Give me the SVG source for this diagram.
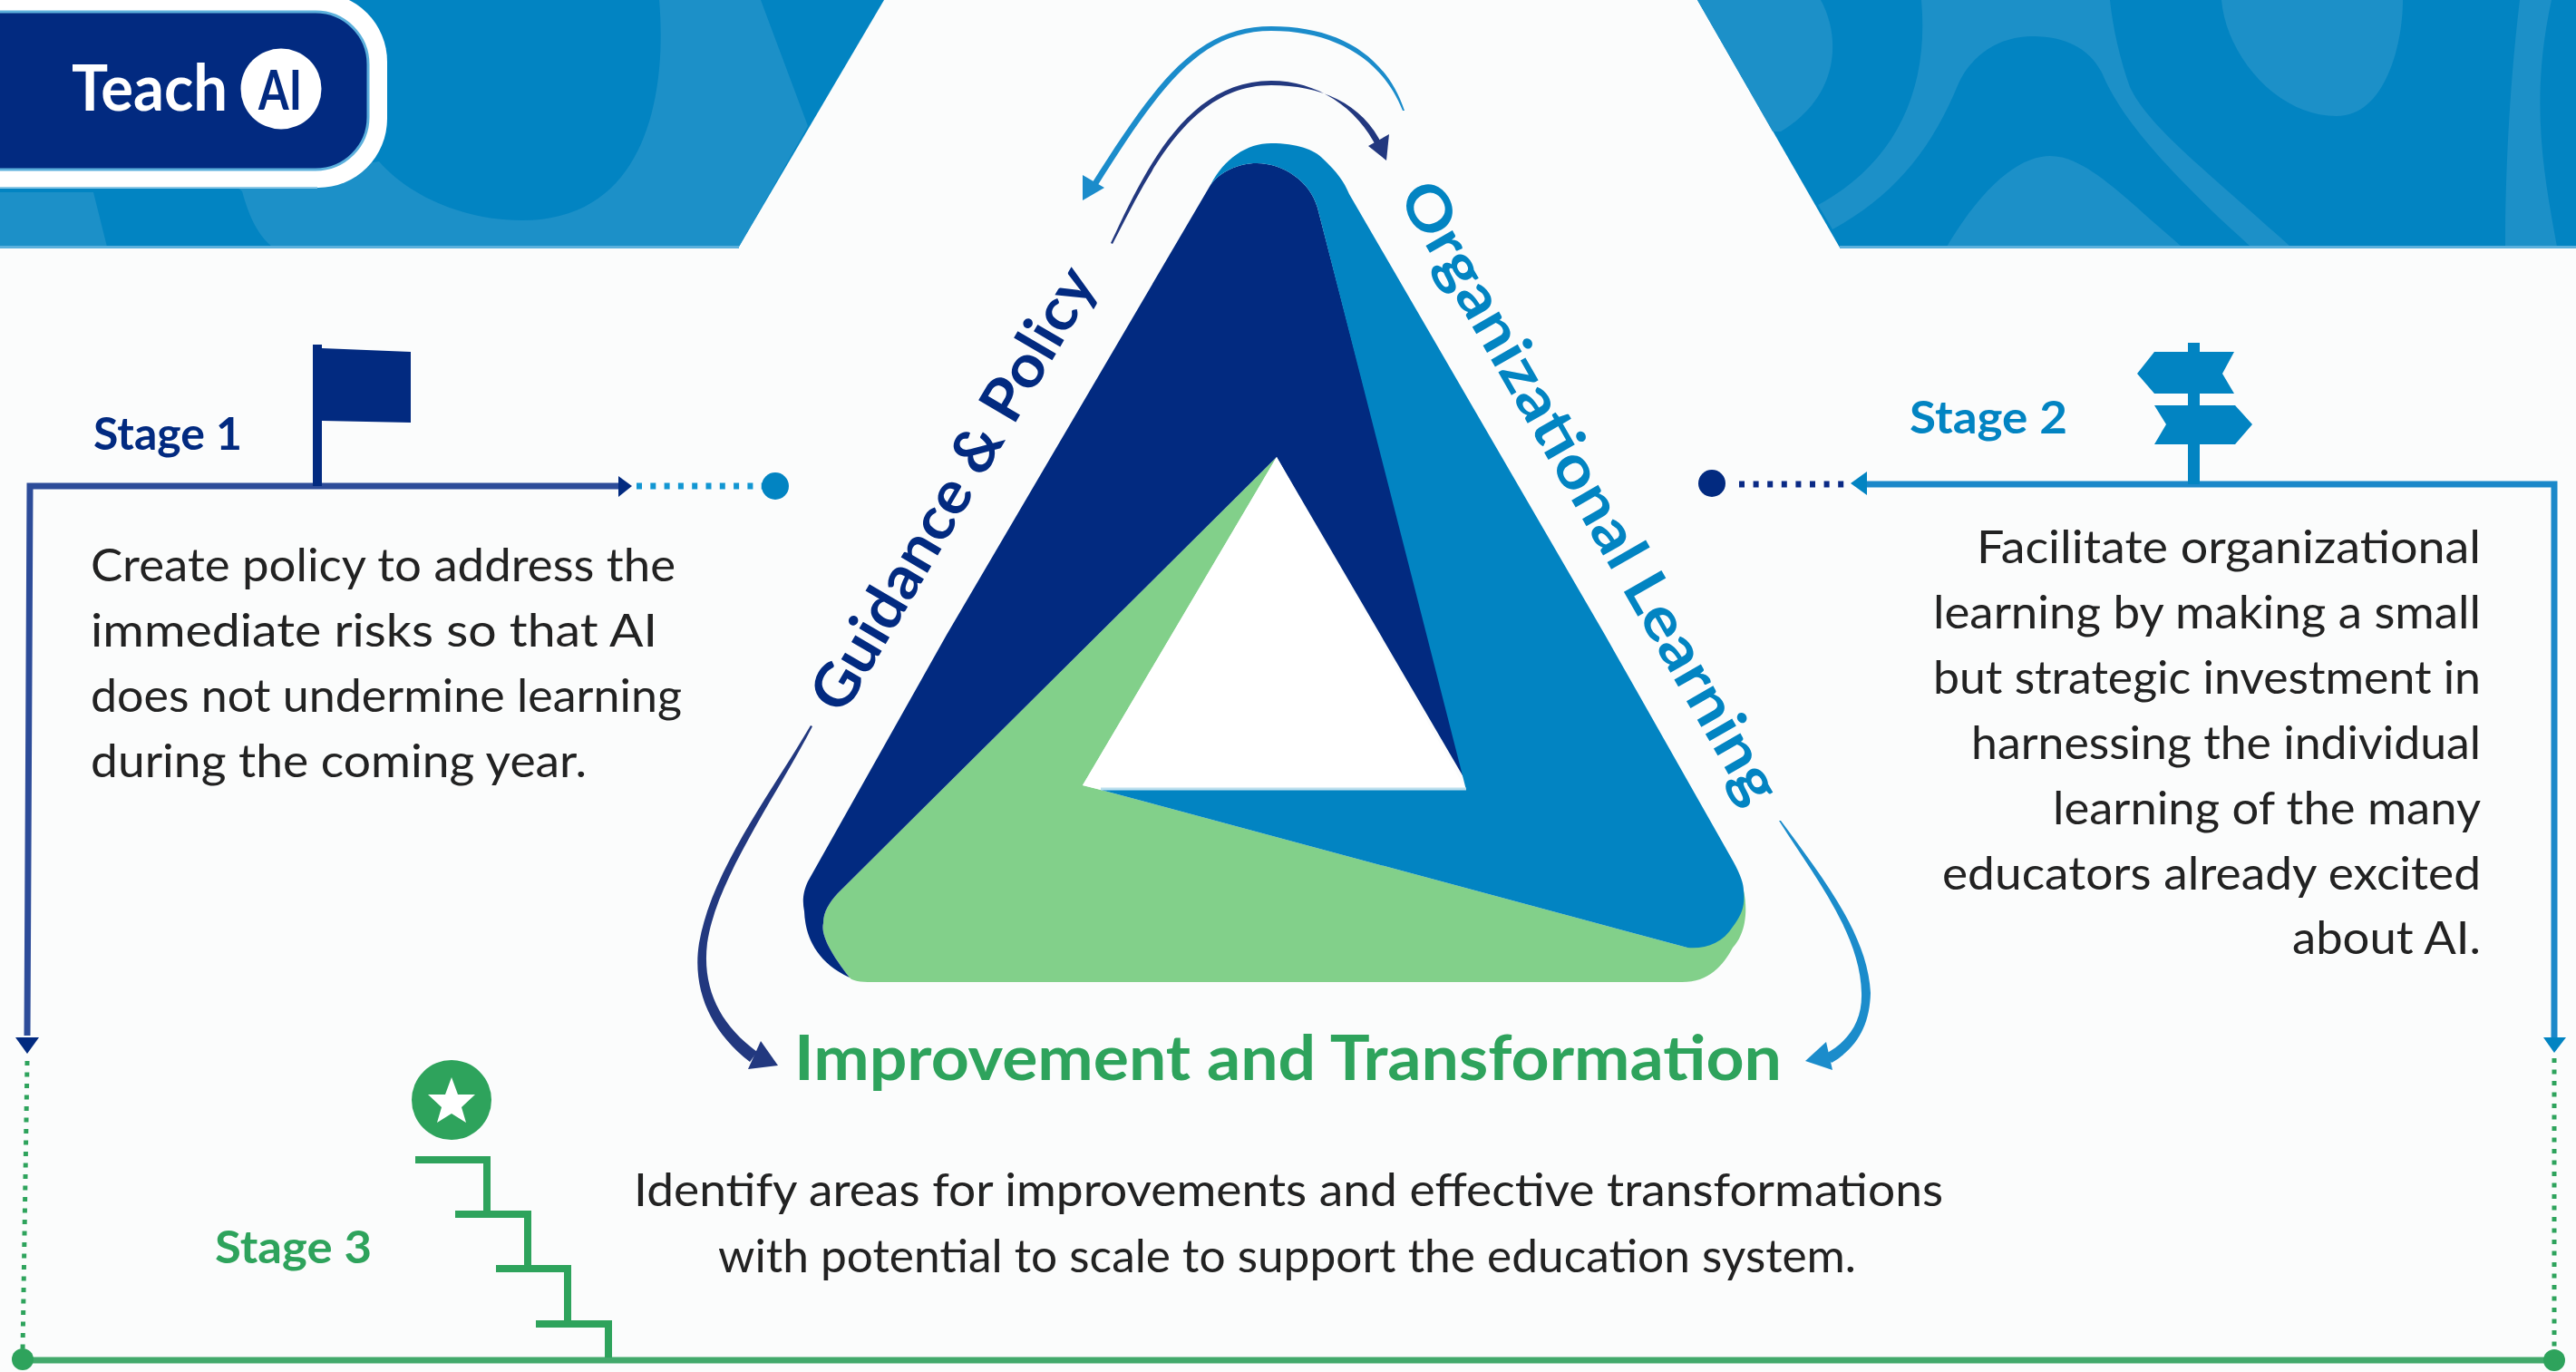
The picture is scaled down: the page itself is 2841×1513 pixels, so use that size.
<svg xmlns="http://www.w3.org/2000/svg" width="2841" height="1513" viewBox="0 0 2841 1513">
<style>
text{font-family:"Lato","Liberation Sans",sans-serif}
.body{font-size:50px;fill:#222;font-weight:400}
.stage{font-size:50px;font-weight:700}
.side{font-size:66px;font-weight:700}
.line{fill:none;stroke-linejoin:miter}
.navy{fill:#022a80}.blue{fill:#0284c2}.green{fill:#2ea35c}
.lb{fill:#1c90c8}.head-n{fill:#22387f}.head-b{fill:#1b8ccb}
.dot{fill:none}
.st{fill:none;stroke:#2ea35c;stroke-width:8}
</style>
<rect width="2841" height="1513" fill="#fbfcfc"/>
<g id="header">
<path class="blue" d="M0,0H975L815,272H0Z"/>
<path class="lb" d="M727,0C735,90 720,243 576,243C510,243 450,215 418,178L260,205L267,211C275,240 285,260 300,272H815L891,139L839,0Z"/>
<path class="lb" d="M0,212H103L118,272H0Z"/>
<path class="blue" d="M1872,0H2841V273H2029Z"/>
<path class="lb" d="M1872,0H2008C2030,40 2030,105 1964,145L1955,145Z"/>
<path class="lb" d="M2119,0C2128,100 2090,180 2005,226L2021,253C2090,215 2130,165 2160,92C2175,60 2205,40 2242,40C2280,40 2305,55 2318,80C2335,120 2370,170 2482,272H2526C2430,185 2370,140 2349,96C2338,65 2330,30 2327,0Z"/>
<path class="lb" d="M2147,272C2190,200 2230,172 2261,172C2300,172 2340,215 2406,272Z"/>
<path class="lb" d="M2450,0C2455,60 2510,128 2577,128C2630,128 2650,50 2650,0Z"/>
<path class="lb" d="M2779,0C2768,90 2763,190 2763,272H2820C2805,190 2790,110 2814,0Z"/>
<path d="M0,272.500H815M2029,272.500H2841" fill="none" stroke="#5cb0dc" stroke-width="3"/>
</g>
<g id="logo">
<rect x="-90" y="-8" width="517" height="215" rx="76" fill="#fff"/>
<path d="M0,207H350" stroke="#8cc8e6" stroke-width="2" fill="none"/>
<rect x="-90" y="13" width="496" height="174" rx="58" fill="#022a80" stroke="#5cb0dc" stroke-width="3"/>
<text x="79" y="122" font-size="70" font-weight="700" fill="#fff" textLength="172" lengthAdjust="spacingAndGlyphs">Teach</text>
<circle cx="310" cy="98" r="44.500" fill="#fff"/>
<text x="285" y="121" font-size="62" font-weight="700" fill="#022a80" textLength="48" lengthAdjust="spacingAndGlyphs">AI</text>
</g>
<g id="triangle">
<path fill="#82d08a" d="M1408,504L1194,866L1214,871L1861,1045L1923,982C1928,1005 1925,1030 1911,1045C1900,1065 1885,1083 1855,1083H957C945,1083 938,1080 937,1078C915,1050 905,1030 908,1018C908,1005 915,995 924,985Z"/>
<path class="navy" d="M1386,180C1365,180 1345,190 1335,204L1044,700L891,972C885,985 885,995 887,1005C888,1030 898,1060 937,1078C915,1050 905,1030 908,1018C908,1005 915,995 924,985L1408,504L1617,862L1453,229C1445,200 1415,180 1386,180Z"/>
<path class="blue" d="M1335,204C1350,175 1375,158 1402,158C1430,158 1450,165 1459,175C1475,190 1482,200 1488,214L1770,700L1911,949C1920,965 1923,975 1923,982C1925,1000 1920,1010 1911,1022C1900,1040 1880,1047 1861,1045L1214,871H1617L1453,229C1445,200 1415,180 1386,180C1365,180 1345,190 1335,204Z"/>
<path d="M1408,504L1194,866L1214,871H1617Z" fill="#fff"/>
<path d="M1214,870H1617" stroke="#bcdfee" stroke-width="3" fill="none"/>
</g>
<g id="guidance-label"><text class="side" fill="#022a80" transform="translate(930,790) rotate(-59.600)" textLength="555" lengthAdjust="spacingAndGlyphs">Guidance &amp; Policy</text></g>
<g id="organizational-label"><text class="side" fill="#0284c2" transform="translate(1541,216) rotate(60.200)" textLength="778" lengthAdjust="spacingAndGlyphs">Organizational Learning</text></g>
<g id="improvement-label"><text x="876" y="1191" font-size="68" font-weight="700" fill="#2ea35c" textLength="1089" lengthAdjust="spacingAndGlyphs">Improvement and Transformation</text></g>
<g id="connectors">
<path class="head-b" d="M1549,122C1528,60 1475,29 1402,29C1320,29 1275,90 1203,204L1209,207C1281,92 1325,34 1402,34C1473,34 1525,66 1547,122Z"/>
<polygon class="head-b" points="1194,221 1194,193 1218,207"/>
<path class="head-n" d="M1225,268C1262,190 1308,89 1402,89C1452,89 1497,118 1519,164L1525,161C1503,113 1455,94 1402,94C1312,94 1268,190 1227,269Z"/>
<polygon class="head-n" points="1529,177 1509,161 1532,148"/>
<path class="head-n" d="M894,800C850,875 785,960 771,1040C763,1090 783,1137 827,1171L835,1160C794,1130 774,1090 780,1040C790,970 855,880 896,801Z"/>
<polygon class="head-n" points="858,1175 839,1148 825,1179"/>
<path class="head-b" d="M1962,905C2000,965 2052,1030 2053,1095C2054,1125 2040,1148 2012,1163L2020,1172C2049,1155 2062,1130 2063,1095C2060,1030 2008,965 1964,905Z"/>
<polygon class="head-b" points="1991,1170 2014,1149 2021,1180"/>
<path class="line" d="M30,1142L33,536H684" stroke="#2d4c99" stroke-width="7"/>
<polygon class="navy" points="697,536 682,525 682,548"/>
<polygon class="navy" points="30,1162 17,1144 43,1144"/>
<path class="dot" d="M702,536H842" stroke="#1296d2" stroke-width="7" stroke-dasharray="6 9.300"/>
<circle cx="855" cy="536" r="15" class="blue"/>
<path class="line" d="M2056,534H2817V1146" stroke="#1b88c9" stroke-width="7"/>
<polygon class="blue" points="2041,533 2059,520 2059,546"/>
<polygon class="blue" points="2817,1161 2805,1144 2830,1144"/>
<path class="dot" d="M1918,534H2036" stroke="#0a2a85" stroke-width="7" stroke-dasharray="6 9.600"/>
<circle cx="1888" cy="533" r="15" class="navy"/>
<path class="dot" d="M30,1170L25,1490" stroke="#2ea35c" stroke-width="5" stroke-dasharray="5 7.500"/>
<path class="dot" d="M2817,1167V1490" stroke="#2ea35c" stroke-width="5" stroke-dasharray="5 7.500"/>
<path class="line" d="M25,1500H2817" stroke="#42a96b" stroke-width="7"/>
<circle cx="25" cy="1499" r="12" class="green"/>
<circle cx="2817" cy="1500" r="12" class="green"/>
</g>
<g id="stage1">
<path class="navy" d="M345,380H355V384L453,388V466L355,464V536H345Z"/>
<text class="stage" x="103" y="496" fill="#022a80" textLength="164" lengthAdjust="spacingAndGlyphs">Stage 1</text>
<text class="body" x="100" y="641" textLength="645" lengthAdjust="spacingAndGlyphs">Create policy to address the</text>
<text class="body" x="100" y="713" textLength="625" lengthAdjust="spacingAndGlyphs">immediate risks so that AI</text>
<text class="body" x="100" y="785" textLength="652" lengthAdjust="spacingAndGlyphs">does not undermine learning</text>
<text class="body" x="100" y="857" textLength="547" lengthAdjust="spacingAndGlyphs">during the coming year.</text>
</g>
<g id="stage2">
<path class="blue" d="M2413,378H2426V388H2464L2451,412L2464,434H2426V447H2465L2484,468L2465,490H2426V534H2413V490H2376L2389,468L2376,447H2413V434H2376L2357,412L2376,388H2413Z"/>
<text class="stage" x="2106" y="478" fill="#0284c2" textLength="174" lengthAdjust="spacingAndGlyphs">Stage 2</text>
<text class="body" x="2736" y="621" text-anchor="end" textLength="556" lengthAdjust="spacingAndGlyphs">Facilitate organizational</text>
<text class="body" x="2736" y="693" text-anchor="end" textLength="604" lengthAdjust="spacingAndGlyphs">learning by making a small</text>
<text class="body" x="2736" y="765" text-anchor="end" textLength="604" lengthAdjust="spacingAndGlyphs">but strategic investment in</text>
<text class="body" x="2736" y="837" text-anchor="end" textLength="562" lengthAdjust="spacingAndGlyphs">harnessing the individual</text>
<text class="body" x="2736" y="909" text-anchor="end" textLength="472" lengthAdjust="spacingAndGlyphs">learning of the many</text>
<text class="body" x="2736" y="981" text-anchor="end" textLength="594" lengthAdjust="spacingAndGlyphs">educators already excited</text>
<text class="body" x="2736" y="1052" text-anchor="end" textLength="208" lengthAdjust="spacingAndGlyphs">about AI.</text>
</g>
<g id="stage3">
<circle cx="498" cy="1213" r="44" class="green"/>
<polygon fill="#fff" points="498,1188 505,1207 524,1207 509,1221 514,1238 498,1228 482,1238 487,1221 472,1207 491,1207"/>
<path class="st" d="M458,1279H537V1339M502,1339H582V1399M547,1399H626V1460M591,1460H671V1497"/>
<text class="stage" x="237" y="1393" fill="#2ea35c" textLength="173" lengthAdjust="spacingAndGlyphs">Stage 3</text>
<text class="body" x="699" y="1330" textLength="1444" lengthAdjust="spacingAndGlyphs">Identify areas for improvements and effective transformations</text>
<text class="body" x="792" y="1403" textLength="1255" lengthAdjust="spacingAndGlyphs">with potential to scale to support the education system.</text>
</g>
</svg>
